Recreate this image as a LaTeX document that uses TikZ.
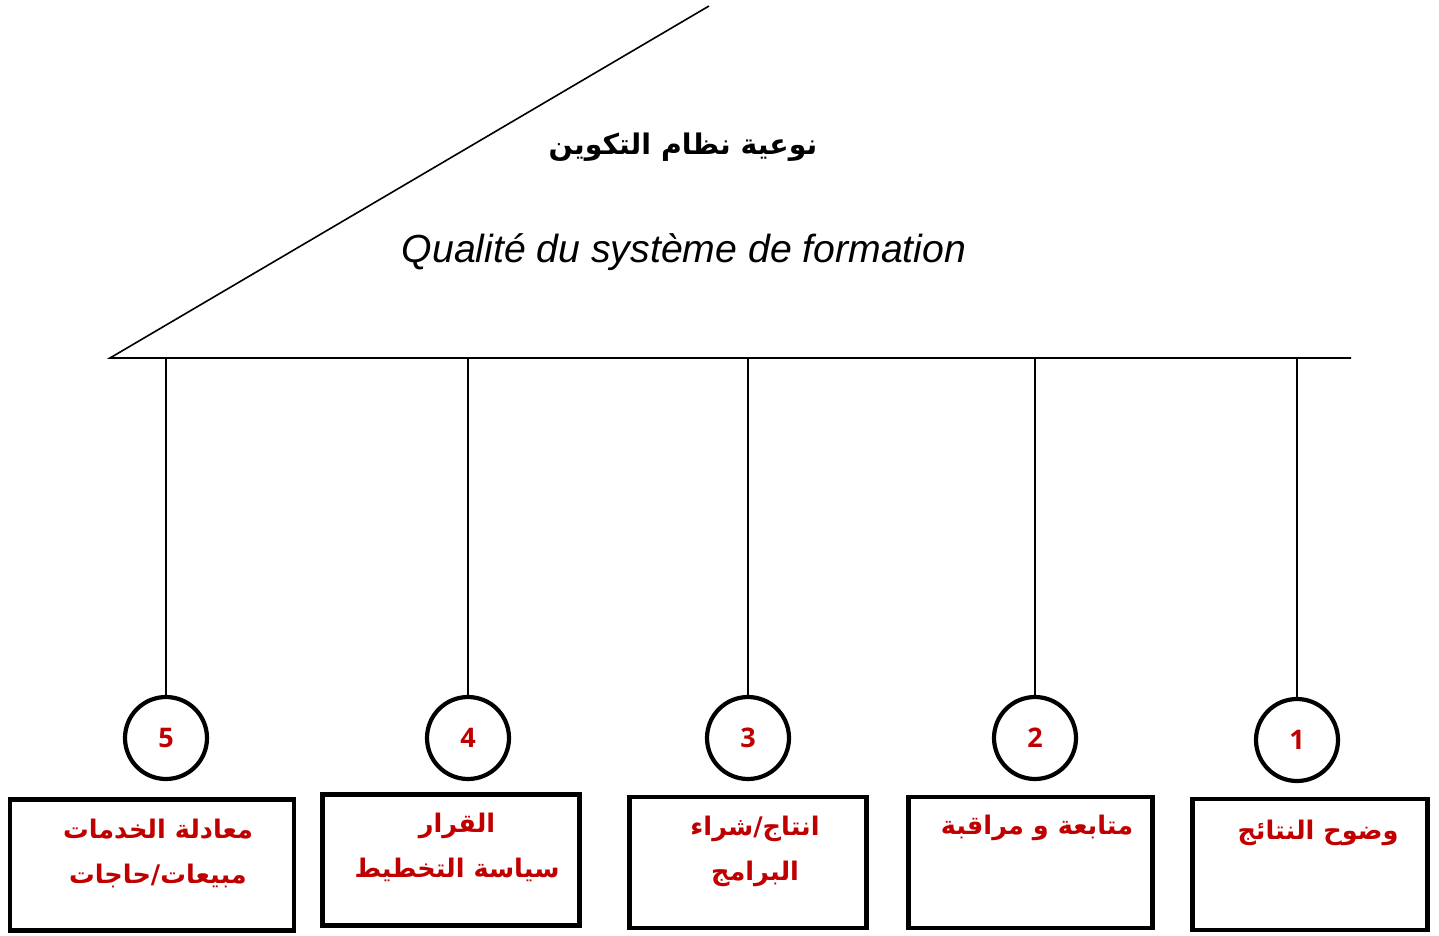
\documentclass[tikz,border=0pt]{standalone}
\usepackage{fontspec}
\usepackage{tikz}
\usetikzlibrary{positioning}
\TeXXeTstate=1
\newfontfamily\arabicfont[Script=Arabic]{DejaVu Sans}
\newfontfamily\latinfont{Liberation Sans}
\newfontfamily\numfont{Open Sans}
\definecolor{deepred}{RGB}{192, 0, 0}
\newcommand{\artxt}[1]{\beginR #1\endR}

\begin{document}
\begin{tikzpicture}[x=0.5pt, y=-0.5pt,
  bar/.style={line width=0.8pt},
  num/.style={circle, draw, line width=2.1pt, minimum size=41pt, inner sep=0pt,
    font=\numfont\bfseries\fontsize{13.5}{13.5}\selectfont, text=deepred},
  box/.style={draw, line width=2.4pt, minimum height=65.5pt, inner sep=0pt},
  label/.style={align=center, text=deepred,
    font=\arabicfont\bfseries\fontsize{12.8}{22.5}\selectfont}]

  \useasboundingbox (0, 0) rectangle (1439, 936);

  % roof and bar
  \coordinate (roof) at (709, 6);
  \coordinate (left) at (110, 358);
  \coordinate (right) at (1351, 358);
  \draw[bar] (roof) -- (left) -- (right);

  \node[font=\arabicfont\bfseries\fontsize{14.2}{14.2}\selectfont] (title) at (683, 147)
    {\artxt{نوعية نظام التكوين}};
  \node[font=\latinfont\itshape\fontsize{19.6}{19.6}\selectfont] (subtitle) at (684, 252)
    {Qualité du système de formation};

  % numbered circles
  \node[num] (c5) at (166, 738) {5};
  \node[num] (c4) at (468, 738) {4};
  \node[num] (c3) at (748, 738) {3};
  \node[num] (c2) at (1035, 738) {2};
  \node[num] (c1) at (1297, 740) {1};

  \foreach \c/\x in {c5/166, c4/468, c3/748, c2/1035, c1/1297} {
    \coordinate (t\c) at (\x, 358);
    \draw[bar] (t\c) -- (\c.north);
  }

  % boxes
  \node[box, minimum width=142pt] (b5) at (152, 865) {};
  \node[box, minimum width=128.5pt] (b4) at (451, 860) {};
  \node[box, minimum width=118.5pt] (b3) at (748, 862.5) {};
  \node[box, minimum width=122pt] (b2) at (1030.5, 862.5) {};
  \node[box, minimum width=117.5pt] (b1) at (1310, 864.5) {};

  \node[label] (l5) at (158, 853)
    {\artxt{معادلة الخدمات}\\\artxt{مبيعات/حاجات}};
  \node[label] (l4) at (457, 847)
    {\artxt{القرار}\\\artxt{سياسة التخطيط}};
  \node[label] (l3) at (755, 851)
    {\artxt{انتاج/شراء}\\\artxt{البرامج}};
  \node[label] (l2) at (1037, 828) {\artxt{متابعة و مراقبة}};
  \node[label] (l1) at (1318, 833) {\artxt{وضوح النتائج}};

\end{tikzpicture}
\end{document}
